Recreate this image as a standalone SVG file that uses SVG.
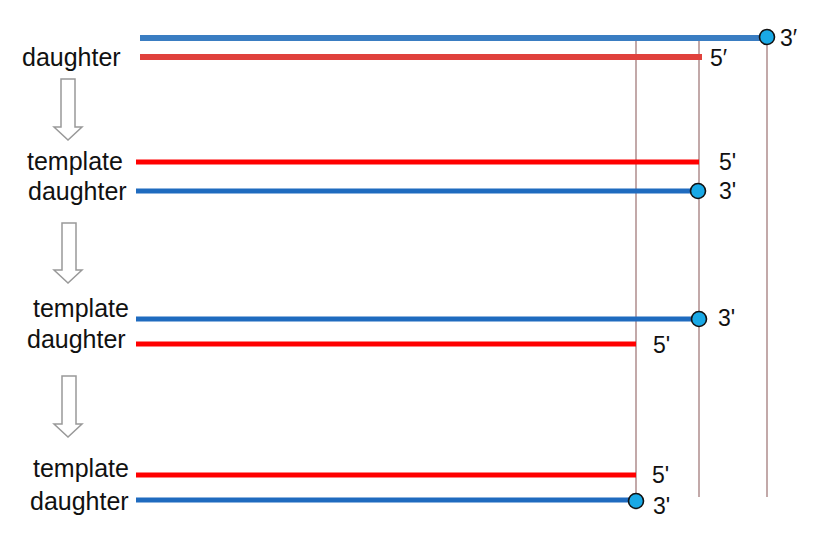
<svg xmlns="http://www.w3.org/2000/svg" width="828" height="550" viewBox="0 0 828 550">
<style>
text{font-family:"Liberation Sans",Arial,sans-serif;fill:#111}
.lbl{font-size:25px}
.end{font-size:23px}
.red{stroke:#ff0000;stroke-width:5;fill:none}
.blue{stroke:#1f6bbf;stroke-width:5;fill:none}
.redT{stroke:#e0413c;stroke-width:6;fill:none}
.blueT{stroke:#3a7dc2;stroke-width:6;fill:none}
.guide{stroke:#9a7070;stroke-width:1.2;fill:none}
.dot{fill:#19a9e6;stroke:#111;stroke-width:1.6}
.arr{fill:#fff;stroke:#999;stroke-width:1.5}
</style>
<rect width="828" height="550" fill="#fff"/>
<g id="guides">
<line class="guide" x1="636" y1="36" x2="636" y2="500"/>
<line class="guide" x1="699" y1="36" x2="699" y2="497"/>
<line class="guide" x1="767" y1="36" x2="767" y2="497"/>
</g>
<g id="arrows">
<polygon class="arr" points="61,79 75,79 75,127 82,127 68,140 54,127 61,127"/>
<polygon class="arr" points="62,223 76,223 76,270 82,270 68,283 54,270 62,270"/>
<polygon class="arr" points="62,376 76,376 76,424 82,424 68,437 54,424 62,424"/>
</g>
<g id="stage1">
<line class="blueT" x1="140" y1="38" x2="767" y2="38"/>
<line class="redT" x1="140" y1="57" x2="702" y2="57"/>
<circle class="dot" cx="767" cy="37" r="7.5"/>
<text class="end" x="780" y="46">3′</text>
<text class="end" x="710" y="66">5′</text>
<text class="lbl" x="22" y="66">daughter</text>
</g>
<g id="stage2">
<line class="red" x1="136" y1="162" x2="699" y2="162"/>
<line class="blue" x1="136" y1="191" x2="698" y2="191"/>
<circle class="dot" cx="698" cy="191" r="7.5"/>
<text class="end" x="719" y="170">5'</text>
<text class="end" x="719" y="199">3'</text>
<text class="lbl" x="27" y="170">template</text>
<text class="lbl" x="28" y="200">daughter</text>
</g>
<g id="stage3">
<line class="blue" x1="136" y1="319" x2="699" y2="319"/>
<line class="red" x1="136" y1="344" x2="636" y2="344"/>
<circle class="dot" cx="699" cy="319" r="7.5"/>
<text class="end" x="718" y="326">3'</text>
<text class="end" x="653" y="353">5'</text>
<text class="lbl" x="33" y="317">template</text>
<text class="lbl" x="27" y="348">daughter</text>
</g>
<g id="stage4">
<line class="red" x1="136" y1="475" x2="636" y2="475"/>
<line class="blue" x1="136" y1="500" x2="636" y2="500"/>
<circle class="dot" cx="636" cy="501" r="7.5"/>
<text class="end" x="652" y="483">5'</text>
<text class="end" x="653" y="514">3'</text>
<text class="lbl" x="33" y="477">template</text>
<text class="lbl" x="30" y="510">daughter</text>
</g>
</svg>
